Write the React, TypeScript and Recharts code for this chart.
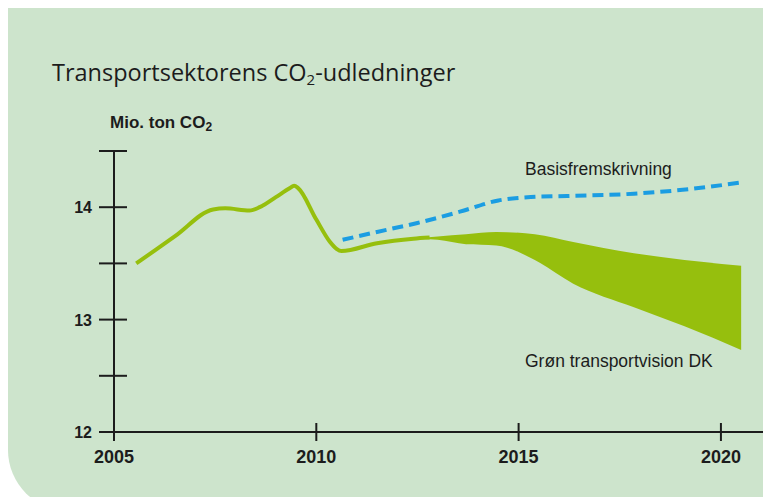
import React from 'react';
import { ComposedChart, Line, Area, XAxis, YAxis } from 'recharts';

// historisk udledning (mio. ton CO2)
const histYears = [2005.55, 2006.5, 2007.45, 2007.75, 2008.35, 2008.6, 2009.0, 2009.35, 2009.45, 2009.55, 2010.0, 2010.34, 2010.5, 2010.62, 2011.5, 2012.4, 2012.8];
const histValues = [13.5, 13.74, 13.98, 13.99, 13.97, 14.0, 14.09, 14.17, 14.19, 14.17, 13.89, 13.69, 13.63, 13.61, 13.68, 13.72, 13.73];

// Grøn transportvision DK – spænd
const greenYears = [2012.4, 2013.0, 2013.7, 2014.45, 2015.4, 2016.35, 2017.85, 2019.1, 2020.5];
const greenLow = [13.72, 13.71, 13.67, 13.66, 13.53, 13.32, 13.11, 12.94, 12.73];
const greenHigh = [13.72, 13.74, 13.76, 13.78, 13.76, 13.69, 13.59, 13.53, 13.48];

// Basisfremskrivning
const baseYears = [2010.65, 2011.5, 2012.5, 2013.55, 2014.5, 2015.3, 2016.2, 2017.85, 2019.2, 2020.5];
const baseValues = [13.71, 13.78, 13.86, 13.96, 14.06, 14.09, 14.1, 14.12, 14.16, 14.22];

const xTicks = [2005, 2010, 2015, 2020];
const yTicks = [12, 12.5, 13, 13.5, 14, 14.5];

const histData = histYears.map((year, i) => ({ year, value: histValues[i] }));
const greenData = greenYears.map((year, i) => ({ year, range: [greenLow[i], greenHigh[i]] }));
const baseData = baseYears.map((year, i) => ({ year, value: baseValues[i] }));

const INK = '#1c1c1c';
const GREEN = '#96bf0d';
const BLUE = '#1b9de2';
const SANS = "'Liberation Sans', Arial, sans-serif";

const XTick = (props: any) => {
  const { x, y, payload } = props;
  return (
    <g>
      <line x1={x} x2={x} y1={y - 9} y2={y + 9} stroke={INK} strokeWidth={2} />
      <text x={x} y={y + 31} textAnchor="middle" fontSize={18} fontWeight="bold" fontFamily={SANS} fill={INK}>
        {payload.value}
      </text>
    </g>
  );
};

const YTick = (props: any) => {
  const { x, y, payload } = props;
  const whole = Number.isInteger(payload.value);
  return (
    <g>
      <line x1={x - 15} x2={x + 13} y1={y} y2={y} stroke={INK} strokeWidth={2} />
      {whole && (
        <text x={x - 22} y={y + 6} textAnchor="end" fontSize={16} fontWeight="bold" fontFamily={SANS} fill={INK}>
          {payload.value}
        </text>
      )}
    </g>
  );
};

export default function App() {
  return (
    <div style={{ position: 'fixed', left: 8, top: 8, width: 755, height: 489, overflow: 'hidden' }}>
      <div
        style={{
          position: 'absolute',
          left: 0,
          top: 0,
          width: 755,
          height: 503,
          background: '#cde4cc',
          borderBottomLeftRadius: 61,
        }}
      />
      <div style={{ position: 'absolute', left: -8, top: -8 }}>
        <ComposedChart width={763} height={497} margin={{ top: 151, right: 0, bottom: 0, left: 0 }}>
          <XAxis
            dataKey="year"
            type="number"
            domain={[2005, 2021.04]}
            ticks={xTicks}
            interval={0}
            allowDataOverflow
            height={65}
            tickSize={0}
            tickMargin={0}
            tickLine={false}
            axisLine={{ stroke: INK, strokeWidth: 2 }}
            tick={<XTick />}
          />
          <YAxis
            type="number"
            domain={[12, 14.5]}
            ticks={yTicks}
            interval={0}
            width={114}
            tickSize={0}
            tickMargin={0}
            tickLine={false}
            axisLine={{ stroke: INK, strokeWidth: 2 }}
            tick={<YTick />}
          />
          <Area
            data={greenData}
            dataKey="range"
            type="monotone"
            stroke="none"
            fill={GREEN}
            fillOpacity={1}
            isAnimationActive={false}
          />
          <Line
            data={histData}
            dataKey="value"
            type="monotone"
            stroke={GREEN}
            strokeWidth={4}
            dot={false}
            isAnimationActive={false}
          />
          <Line
            data={baseData}
            dataKey="value"
            type="monotone"
            stroke={BLUE}
            strokeWidth={4}
            strokeDasharray="11 6"
            dot={false}
            isAnimationActive={false}
          />
        </ComposedChart>
        <svg width={763} height={497} style={{ position: 'absolute', left: 0, top: 0, pointerEvents: 'none' }}>
          <text x={52} y={81} fontSize={23.5} fontFamily="'Open Sans', sans-serif" fill={INK}>
            Transportsektorens CO
            <tspan fontSize={15} dy={4}>2</tspan>
            <tspan dy={-4}>-udledninger</tspan>
          </text>
          <text x={110} y={128} fontSize={17} fontWeight="bold" fontFamily={SANS} fill={INK}>
            Mio. ton CO
            <tspan fontSize={12} dy={3}>2</tspan>
          </text>
          <text x={525} y={175} fontSize={17.5} fontFamily={SANS} fill={INK}>
            Basisfremskrivning
          </text>
          <text x={525} y={367} fontSize={17.5} fontFamily={SANS} fill={INK}>
            Grøn transportvision DK
          </text>
        </svg>
      </div>
    </div>
  );
}
